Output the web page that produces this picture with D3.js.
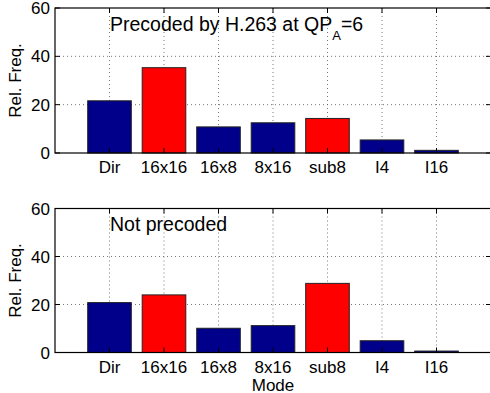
<!DOCTYPE html>
<html>
<head>
<meta charset="utf-8">
<script src="https://cdn.jsdelivr.net/npm/d3@7"></script>
<style>
  body { margin: 0; background: #fff; }
  svg { display: block; }
  text { font-family: Helvetica, "Liberation Sans", Arial, sans-serif; fill: #000; }
</style>
</head>
<body>
<div id="chart"></div>
<script>
// mode histogram values
const modes = ['Dir', '16x16', '16x8', '8x16', 'sub8', 'I4', 'I16'];
const precodedFreq = [21.6, 35.3, 10.8, 12.5, 14.3, 5.4, 1.1];
const notPrecodedFreq = [20.8, 24.0, 10.1, 11.2, 28.8, 4.9, 0.6];
const highlightedModes = ['16x16', 'sub8'];
const yTicks = [0, 20, 40, 60];

const width = 490, height = 393;
const left = 55, right = 491;

const svg = d3.select('#chart').append('svg')
    .attr('width', width)
    .attr('height', height);

const x = d3.scaleLinear().domain([0, modes.length + 1]).range([left, right]);
const step = x(1) - x(0);
const barW = step * 0.8;

function drawPanel(top, bottom, values, titleParts, showXLabel) {
    const y = d3.scaleLinear().domain([0, 60]).range([bottom, top]);
    const g = svg.append('g');

    // dotted grid
    g.append('g').selectAll('line.hg')
        .data(yTicks.filter(t => t > 0 && t < 60))
        .join('line')
        .attr('x1', left).attr('x2', right)
        .attr('y1', d => y(d)).attr('y2', d => y(d))
        .style('stroke', '#555').style('stroke-width', 0.8)
        .style('stroke-dasharray', '1,3');
    g.append('g').selectAll('line.vg')
        .data(modes)
        .join('line')
        .attr('x1', (d, i) => x(i + 1)).attr('x2', (d, i) => x(i + 1))
        .attr('y1', top).attr('y2', bottom)
        .style('stroke', '#555').style('stroke-width', 0.8)
        .style('stroke-dasharray', '1,3');

    // bars
    g.append('g').selectAll('rect')
        .data(values)
        .join('rect')
        .attr('x', (d, i) => x(i + 1) - barW / 2)
        .attr('y', d => y(d))
        .attr('width', barW)
        .attr('height', d => y(0) - y(d))
        .style('fill', (d, i) => highlightedModes.includes(modes[i]) ? '#ff0000' : '#00008a')
        .style('stroke', '#222')
        .style('stroke-width', 1);

    // ticks (inward)
    const tk = 5;
    yTicks.forEach(t => {
        g.append('line').attr('x1', left).attr('x2', left + tk)
            .attr('y1', y(t)).attr('y2', y(t)).style('stroke', '#000');
        g.append('line').attr('x1', right - tk).attr('x2', right)
            .attr('y1', y(t)).attr('y2', y(t)).style('stroke', '#000');
    });
    modes.forEach((m, i) => {
        g.append('line').attr('x1', x(i + 1)).attr('x2', x(i + 1))
            .attr('y1', bottom).attr('y2', bottom - tk).style('stroke', '#000');
        g.append('line').attr('x1', x(i + 1)).attr('x2', x(i + 1))
            .attr('y1', top).attr('y2', top + tk).style('stroke', '#000');
    });

    // box
    g.append('rect')
        .attr('x', left).attr('y', top)
        .attr('width', right - left).attr('height', bottom - top)
        .style('fill', 'none').style('stroke', '#000').style('stroke-width', 1.2);

    // tick labels
    g.append('g').selectAll('text')
        .data(yTicks)
        .join('text')
        .attr('x', left - 5)
        .attr('y', d => y(d))
        .attr('dy', '0.36em')
        .style('text-anchor', 'end')
        .style('font-size', '17px')
        .text(d => d);
    g.append('g').selectAll('text')
        .data(modes)
        .join('text')
        .attr('x', (d, i) => x(i + 1))
        .attr('y', bottom + 20)
        .style('text-anchor', 'middle')
        .style('font-size', '17px')
        .text(d => d);

    // y label
    g.append('text')
        .attr('transform', `translate(21,${(top + bottom) / 2}) rotate(-90)`)
        .style('text-anchor', 'middle')
        .style('font-size', '17px')
        .text('Rel. Freq.');

    // panel title
    const t = g.append('text')
        .attr('x', 110)
        .attr('y', top + 22.5)
        .style('font-size', '19.5px');
    t.append('tspan').text(titleParts[0]);
    if (titleParts.length > 1) {
        t.append('tspan').attr('dy', 9).style('font-size', '13px').text(titleParts[1]);
        t.append('tspan').attr('dy', -9).text(titleParts[2]);
    }

    if (showXLabel) {
        g.append('text')
            .attr('x', (left + right) / 2)
            .attr('y', bottom + 38)
            .style('text-anchor', 'middle')
            .style('font-size', '17px')
            .text('Mode');
    }
}

drawPanel(8, 153, precodedFreq, ['Precoded by H.263 at QP', 'A', '=6'], false);
drawPanel(208.5, 352.5, notPrecodedFreq, ['Not precoded'], true);
</script>
</body>
</html>
